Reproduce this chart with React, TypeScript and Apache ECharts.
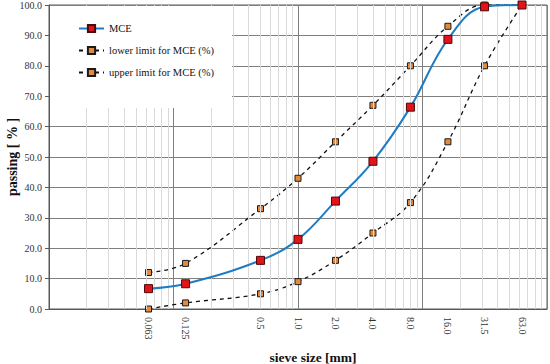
import React, { useEffect, useRef } from "react";
import * as echarts from "echarts";

const sieveSizes = [0.063, 0.125, 0.5, 1.0, 2.0, 4.0, 8.0, 16.0, 31.5, 63.0];
const sieveLabels = ["0.063", "0.125", "0.5", "1.0", "2.0", "4.0", "8.0", "16.0", "31.5", "63.0"];
const mceValues = [6.7, 8.3, 16.0, 22.9, 35.5, 48.6, 66.4, 88.7, 99.4, 100.0];
const lowerLimitValues = [12.0, 15.0, 33.0, 43.0, 55.0, 67.0, 80.0, 93.0, 100.0, 100.0];
const upperLimitValues = [0.0, 2.0, 5.0, 9.0, 16.0, 25.0, 35.0, 55.0, 80.0, 100.0];
const decades = [0.01, 0.1, 1, 10];
const minorMultipliers = [2, 3, 4, 5, 6, 7, 8, 9];

const FONT = "'Liberation Serif', 'Times New Roman', serif";

function pairs(values: number[]) {
  return sieveSizes.map((s, i) => [s, values[i]]);
}

function labelFor(v: number) {
  let best = 0;
  let bestD = Infinity;
  sieveSizes.forEach((s, i) => {
    const d = Math.abs(Math.log10(s) - Math.log10(v));
    if (d < bestD) {
      bestD = d;
      best = i;
    }
  });
  return sieveLabels[best];
}

export default function App() {
  const ref = useRef<HTMLDivElement>(null);
  useEffect(() => {
    if (!ref.current) return;
    const chart = echarts.init(ref.current, undefined, { renderer: "svg" });
    const minorLines: any[] = [];
    decades.forEach((d) => minorMultipliers.forEach((m) => minorLines.push({ xAxis: d * m })));
    chart.setOption({
      animation: false,
      textStyle: { fontFamily: FONT },
      grid: {
        left: 49,
        right: 3,
        top: 5,
        bottom: 55,
        containLabel: false,
        outerBoundsMode: "none",
        show: true,
        borderColor: "#595959",
        borderWidth: 1,
        backgroundColor: "transparent",
      },
      legend: {
        orient: "vertical",
        left: 50,
        top: 6,
        padding: [17, 18, 30, 28],
        itemGap: 11,
        itemWidth: 25,
        itemHeight: 9,
        backgroundColor: "#ffffff",
        textStyle: { fontFamily: FONT, fontSize: 10.5, color: "#111" },
        data: ["MCE", "lower limit for MCE (%)", "upper limit for MCE (%)"],
        z: 10,
      },
      xAxis: {
        type: "log",
        logBase: 10,
        min: 0.01,
        max: 100,
        name: "sieve size [mm]",
        nameLocation: "middle",
        nameGap: 41,
        nameMoveOverlap: false,
        nameTextStyle: {
          fontFamily: FONT,
          fontSize: 13.5,
          fontWeight: "bold",
          color: "#111",
          padding: [0, 0, 0, 30],
        },
        axisLine: { show: true, lineStyle: { color: "#595959", width: 1 } },
        axisTick: { show: false },
        axisLabel: {
          customValues: sieveSizes,
          rotate: -90,
          margin: 8,
          fontFamily: FONT,
          fontSize: 10,
          color: "#333",
          formatter: (v: number) => labelFor(v),
        },
        splitLine: { show: true, lineStyle: { color: "#7f7f7f", width: 1 } },
      },
      yAxis: {
        type: "value",
        min: 0,
        max: 100,
        interval: 10,
        name: "passing [ % ]",
        nameLocation: "middle",
        nameGap: 30,
        nameMoveOverlap: false,
        nameTextStyle: { fontFamily: FONT, fontSize: 14, fontWeight: "bold", color: "#111" },
        axisLine: { show: true, lineStyle: { color: "#595959", width: 1 } },
        axisTick: { show: true, length: 4, inside: false, lineStyle: { color: "#595959" } },
        axisLabel: {
          margin: 7,
          fontFamily: FONT,
          fontSize: 10,
          color: "#333",
          formatter: (v: number) => v.toFixed(1),
        },
        splitLine: { show: true, lineStyle: { color: "#7f7f7f", width: 1 } },
      },
      series: [
        {
          name: "minor grid",
          type: "line",
          data: [],
          silent: true,
          z: 1,
          markLine: {
            silent: true,
            symbol: "none",
            label: { show: false },
            lineStyle: { color: "#d9d9d9", type: "solid", width: 1 },
            data: minorLines,
            animation: false,
          },
        },
        {
          name: "MCE",
          type: "line",
          data: pairs(mceValues),
          smooth: 0.4,
          symbol: "rect",
          symbolSize: 8,
          z: 5,
          lineStyle: { color: "#1f7cc2", width: 2 },
          itemStyle: { color: "#e3121b", borderColor: "#4a0a0a", borderWidth: 1 },
        },
        {
          name: "lower limit for MCE (%)",
          type: "line",
          data: pairs(lowerLimitValues),
          smooth: 0.4,
          symbol: "rect",
          symbolSize: 6,
          z: 4,
          lineStyle: { color: "#111", width: 1.3, type: [4, 4] },
          itemStyle: { color: "#e48a3c", borderColor: "#1a1a1a", borderWidth: 1 },
        },
        {
          name: "upper limit for MCE (%)",
          type: "line",
          data: pairs(upperLimitValues),
          smooth: 0.4,
          symbol: "rect",
          symbolSize: 6,
          z: 4,
          lineStyle: { color: "#111", width: 1.3, type: [4, 4] },
          itemStyle: { color: "#e48a3c", borderColor: "#1a1a1a", borderWidth: 1 },
        },
      ],
    });
    return () => chart.dispose();
  }, []);
  return <div ref={ref} style={{ width: 550, height: 364, position: "absolute", left: 0, top: 0 }} />;
}
